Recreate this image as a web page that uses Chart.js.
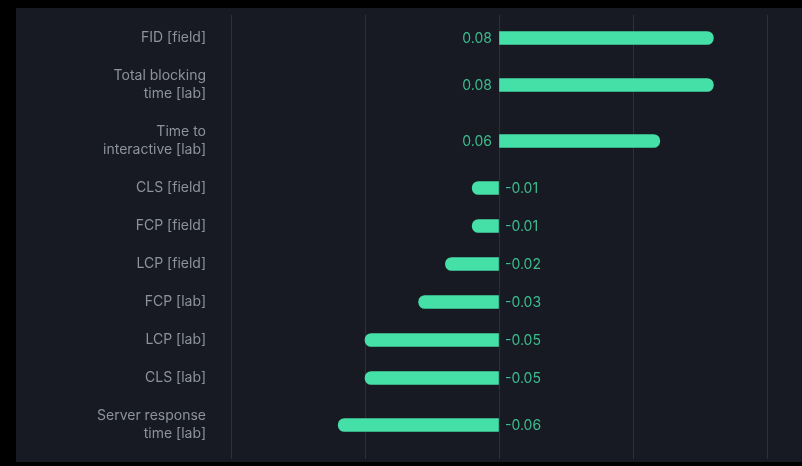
<!DOCTYPE html>
<html>
<head>
<meta charset="utf-8">
<script src="https://cdn.jsdelivr.net/npm/chart.js@4/dist/chart.umd.min.js"></script>
<style>
  html, body { margin: 0; padding: 0; background: #000; }
  body { width: 802px; height: 466px; position: relative; overflow: hidden; }
  #panel { position: absolute; left: 16px; top: 8px; width: 786px; height: 454px; background: #171a22; }
  #panel canvas { display: block; }
</style>
</head>
<body>
<div id="panel"><canvas id="chart" width="786" height="454"></canvas></div>
<script>
// Metric names, one entry per row (each inner array is the lines of the label)
const metrics = [
  ['FID [field]'],
  ['Total blocking', 'time [lab]'],
  ['Time to', 'interactive [lab]'],
  ['CLS [field]'],
  ['FCP [field]'],
  ['LCP [field]'],
  ['FCP [lab]'],
  ['LCP [lab]'],
  ['CLS [lab]'],
  ['Server response', 'time [lab]']
];

// Correlation of each metric
const correlation = [0.08, 0.08, 0.06, -0.01, -0.01, -0.02, -0.03, -0.05, -0.05, -0.06];

// Value axis gridline ticks
const xTicks = [-0.1, -0.05, 0, 0.05, 0.1];

// Rows grow with the number of text lines in their label
const rowHeight = lines => 20 + 18 * lines;
const rowCenters = [];
metrics.forEach((m, i) => {
  if (i === 0) { rowCenters.push(0); return; }
  const prev = rowHeight(metrics[i - 1].length);
  const cur = rowHeight(m.length);
  rowCenters.push(rowCenters[i - 1] + (prev + cur) / 2);
});
const yMin = rowCenters[0] - rowHeight(metrics[0].length) / 2 - 4;
const yMax = rowCenters[rowCenters.length - 1] + rowHeight(metrics[metrics.length - 1].length) / 2 + 6;

const FONT = 'Inter, "Noto Sans", sans-serif';

const valueLabels = {
  id: 'valueLabels',
  afterDatasetsDraw(chart) {
    const ctx = chart.ctx;
    const meta = chart.getDatasetMeta(0);
    const zero = chart.scales.x.getPixelForValue(0);
    ctx.save();
    ctx.font = '14px ' + FONT;
    ctx.fillStyle = '#3dbd8e';
    ctx.textBaseline = 'middle';
    meta.data.forEach((bar, i) => {
      const v = correlation[i];
      const txt = v.toFixed(2);
      if (v >= 0) {
        ctx.textAlign = 'right';
        ctx.fillText(txt, zero - 7, bar.y + 1);
      } else {
        ctx.textAlign = 'left';
        ctx.fillText(txt, zero + 6, bar.y + 1);
      }
    });
    ctx.restore();
  }
};

new Chart(document.getElementById('chart'), {
  type: 'bar',
  data: {
    datasets: [{
      data: correlation.map((v, i) => ({ x: v, y: rowCenters[i] })),
      backgroundColor: '#45e0a8',
      borderWidth: 0,
      borderRadius: 7,
      borderSkipped: 'start',
      barThickness: 13
    }]
  },
  options: {
    indexAxis: 'y',
    responsive: false,
    animation: false,
    layout: { padding: { top: 7, right: 35, bottom: 3, left: 0 } },
    plugins: { legend: { display: false }, tooltip: { enabled: false } },
    scales: {
      x: {
        type: 'linear',
        min: xTicks[0],
        max: xTicks[xTicks.length - 1],
        afterBuildTicks(scale) { scale.ticks = xTicks.map(v => ({ value: v })); },
        afterFit(scale) { scale.height = 0; scale.paddingLeft = 0; scale.paddingRight = 0; },
        ticks: { display: false },
        border: { display: false },
        grid: { color: '#2c3039', lineWidth: 1, drawTicks: false }
      },
      y: {
        type: 'linear',
        reverse: true,
        offset: false,
        min: yMin,
        max: yMax,
        afterBuildTicks(scale) { scale.ticks = rowCenters.map(v => ({ value: v })); },
        afterFit(scale) { scale.width = 215; scale.paddingTop = 0; scale.paddingBottom = 0; },
        ticks: {
          padding: 25,
          color: '#8e929a',
          font: { family: FONT, size: 14, lineHeight: 1.25 },
          callback: (value, index) => metrics[index]
        },
        border: { display: false },
        grid: { display: false, drawTicks: false, offset: false }
      }
    }
  },
  plugins: [valueLabels]
});
</script>
</body>
</html>
